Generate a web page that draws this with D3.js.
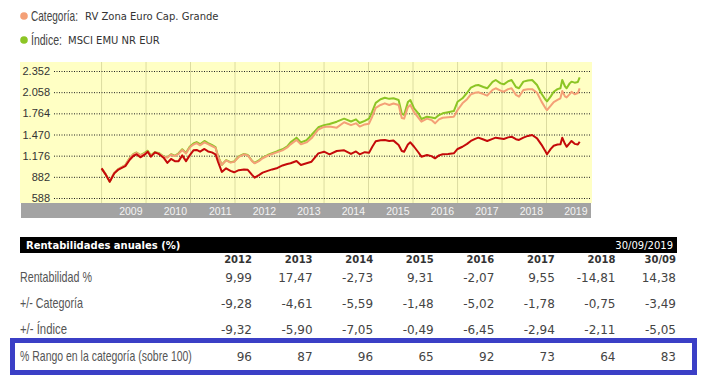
<!doctype html>
<html>
<head>
<meta charset="UTF-8">
<title>RV Zona Euro Cap. Grande</title>
<script src="https://cdn.jsdelivr.net/npm/d3@7"></script>
<style>
body { margin: 0; background: #fff; }
.narrow { font-family: "Liberation Sans", Arial, sans-serif; }
.verd { font-family: "DejaVu Sans", Verdana, sans-serif; }
.arial { font-family: "Liberation Sans", Arial, sans-serif; }
</style>
</head>
<body>
<script>
// series (base 1000)
var fechas = ["2009-01-01","2009-02-01","2009-03-09","2009-04-15","2009-05-15","2009-06-20","2009-07-15","2009-08-20","2009-09-20","2009-10-15","2009-11-15","2009-12-20",
  "2010-01-15","2010-02-10","2010-03-15","2010-04-15","2010-05-25","2010-06-25","2010-07-25","2010-08-25","2010-09-25","2010-10-25","2010-11-25","2010-12-25",
  "2011-01-25","2011-02-20","2011-03-20","2011-04-25","2011-05-25","2011-06-25","2011-07-25","2011-08-15","2011-09-15","2011-10-20","2011-11-25","2011-12-25",
  "2012-02-01","2012-03-15","2012-04-15","2012-05-20","2012-06-10","2012-07-15","2012-08-15","2012-09-25","2012-11-01","2012-12-15",
  "2013-01-25","2013-03-05","2013-04-01","2013-05-20","2013-06-25","2013-08-10","2013-09-20","2013-11-15",
  "2014-01-01","2014-02-15","2014-04-15","2014-06-15","2014-08-10","2014-09-20","2014-10-20","2014-12-01",
  "2015-01-05","2015-02-01","2015-03-01","2015-04-10","2015-05-15","2015-06-20","2015-07-25","2015-09-05","2015-10-01","2015-10-20","2015-11-20","2015-12-10",
  "2016-01-10","2016-02-15","2016-03-10","2016-04-25","2016-06-01","2016-06-30","2016-08-01","2016-09-01","2016-10-15","2016-12-01",
  "2017-01-01","2017-02-10","2017-03-20","2017-04-20","2017-05-25","2017-06-20","2017-08-01","2017-09-01","2017-10-15","2017-11-10","2017-12-20",
  "2018-01-15","2018-02-20","2018-03-20","2018-04-25","2018-05-20","2018-06-25","2018-08-01","2018-09-05","2018-10-15","2018-11-20","2018-12-25",
  "2019-01-05","2019-02-05","2019-03-01","2019-04-01","2019-04-25","2019-05-10","2019-06-01","2019-06-15","2019-07-10","2019-07-25","2019-08-20","2019-09-15","2019-09-30"];

var fondo = [1000,920,814,930,977,1010,1030,1120,1175,1195,1153,1190,
  1231,1162,1222,1200,1148,1075,1130,1100,1100,1180,1100,1180,
  1250,1255,1231,1269,1235,1222,1195,1090,950,1000,965,945,
  975,985,980,910,870,905,940,965,985,1005,
  1040,1060,1070,1102,1046,1070,1092,1208,
  1231,1195,1241,1250,1200,1235,1195,1225,
  1215,1300,1375,1390,1394,1380,1385,1324,1240,1231,1330,1361,
  1300,1220,1162,1185,1170,1139,1180,1195,1200,1208,
  1269,1300,1340,1380,1410,1426,1400,1380,1410,1426,1415,
  1408,1430,1440,1405,1394,1426,1450,1463,1417,1330,1230,
  1195,1270,1314,1330,1333,1426,1340,1300,1350,1380,1340,1330,1370];

var categoria = [1000,925,820,940,985,1020,1045,1140,1195,1215,1180,1205,
  1231,1175,1215,1208,1160,1150,1190,1170,1200,1255,1205,1290,
  1330,1350,1320,1361,1335,1310,1285,1160,1050,1110,1080,1090,
  1160,1195,1180,1100,1070,1100,1140,1175,1200,1225,
  1250,1290,1333,1394,1333,1360,1417,1540,
  1575,1580,1565,1640,1600,1625,1580,1610,
  1620,1720,1840,1880,1903,1880,1900,1880,1700,1690,1850,1880,
  1780,1700,1648,1690,1670,1625,1680,1703,1710,1717,
  1810,1903,1960,2028,2050,2056,2030,2009,2090,2112,2080,
  2064,2100,2112,2020,1995,2088,2100,2100,2050,1930,1830,
  1810,1870,1920,1950,1973,2074,2000,1985,2030,2064,2030,2045,2112];

var indice = [1000,925,815,935,985,1020,1045,1145,1200,1220,1185,1215,
  1245,1180,1225,1215,1165,1155,1195,1175,1210,1265,1215,1300,
  1345,1365,1335,1380,1350,1325,1295,1165,1050,1115,1085,1095,
  1165,1200,1185,1105,1075,1110,1150,1185,1210,1240,
  1265,1305,1361,1426,1361,1390,1463,1570,
  1600,1615,1648,1690,1650,1680,1630,1660,
  1690,1790,1910,1960,1981,1965,1973,1950,1760,1741,1920,1949,
  1834,1760,1685,1717,1705,1695,1740,1764,1780,1796,
  1925,1973,2050,2120,2150,2157,2130,2112,2200,2227,2180,
  2167,2210,2227,2130,2112,2204,2220,2227,2157,2040,1950,
  1930,2000,2064,2100,2112,2227,2140,2112,2180,2204,2190,2200,2264];

var yTicks = [588, 882, 1176, 1470, 1764, 2058, 2352];
var years = [2009, 2010, 2011, 2012, 2013, 2014, 2015, 2016, 2017, 2018, 2019];

// table of annual returns
var columnas = ["2012", "2013", "2014", "2015", "2016", "2017", "2018", "30/09"];
var rentabilidad = [9.99, 17.47, -2.73, 9.31, -2.07, 9.55, -14.81, 14.38];
var difCategoria = [-9.28, -4.61, -5.59, -1.48, -5.02, -1.78, -0.75, -3.49];
var difIndice = [-9.32, -5.90, -7.05, -0.49, -6.45, -2.94, -2.11, -5.05];
var rango = [96, 87, 96, 65, 92, 73, 64, 83];

var es = d3.formatLocale({decimal: ",", thousands: ".", grouping: [3], currency: ["", " €"], minus: "-"});
var fmt2 = es.format(".2f");
var fmtK = es.format(",d");
var parse = d3.timeParse("%Y-%m-%d");

var w = 718, h = 383;
var svg = d3.select("body").append("svg").attr("width", w).attr("height", h);

// condensed label: Liberation Sans squeezed horizontally to the width seen in the picture
function narrowText(x0, y0, txt, width, size, color) {
  var t = svg.append("text").attr("class", "narrow")
    .attr("font-size", size).attr("fill", color).text(txt);
  var sx = width / t.node().getComputedTextLength();
  t.attr("transform", "translate(" + x0 + "," + y0 + ") scale(" + sx + ",1)");
  return t;
}

// legend
var legend = [
  {color: "#f4a077", label: "Categoría:", lw: 47, text: "RV Zona Euro Cap. Grande", tx: 85, y: 16},
  {color: "#8cc525", label: "Índice:", lw: 31, text: "MSCI EMU NR EUR", tx: 68, y: 40}
];
legend.forEach(function(l) {
  svg.append("circle").attr("cx", 24).attr("cy", l.y).attr("r", 3.8).attr("fill", l.color);
  narrowText(31, l.y + 5, l.label, l.lw, "14px", "#444");
  svg.append("text").attr("class", "verd").attr("x", l.tx).attr("y", l.y + 4)
    .attr("font-size", "10px").attr("fill", "#333").text(l.text);
});

// chart
var x = d3.scaleTime()
  .domain([new Date(2008, 0, 1), new Date(2020, 0, 1)])
  .range([57, 591]);
var y = d3.scaleLinear()
  .domain([588, 2352])
  .range([198, 71]);

svg.append("rect").attr("x", 20).attr("y", 62).attr("width", 572).attr("height", 141).attr("fill", "#ffffc4");
svg.append("rect").attr("x", 21).attr("y", 203).attr("width", 570).attr("height", 15).attr("fill", "#a3a3a3");

// vertical year lines
svg.selectAll("line.vgrid").data(years).enter().append("line")
  .attr("class", "vgrid")
  .attr("x1", function(d) { return x(new Date(d, 0, 1)); })
  .attr("x2", function(d) { return x(new Date(d, 0, 1)); })
  .attr("y1", 62).attr("y2", 203)
  .attr("stroke", "#dcdca0").attr("stroke-width", 1);

// y axis with dotted grid
var yAxis = d3.axisLeft(y).tickValues(yTicks).tickFormat(fmtK).tickSize(-(591 - 54)).tickPadding(3);
var gy = svg.append("g").attr("transform", "translate(54,0)").call(yAxis);
gy.select(".domain").remove();
gy.selectAll(".tick line").attr("stroke", "#222").attr("stroke-dasharray", "1,1.5");
gy.selectAll(".tick text").attr("class", "arial").attr("font-size", "11px").attr("fill", "#333").attr("dx", -1);

// year labels on grey band
svg.selectAll("text.year").data(years).enter().append("text")
  .attr("class", "year arial")
  .attr("x", function(d) { return x(new Date(d + 1, 0, 1)) - 3.5; })
  .attr("y", 214.5)
  .attr("text-anchor", "end")
  .attr("font-size", "10.5px")
  .attr("fill", "#f4f4f4")
  .text(function(d) { return d; });

var series = [
  {values: indice, color: "#8cc525"},
  {values: categoria, color: "#f4a077"},
  {values: fondo, color: "#c40a0a"}
];
var line = d3.line()
  .x(function(d) { return x(d.date); })
  .y(function(d) { return y(d.value); });

series.forEach(function(s) {
  var pts = fechas.map(function(f, i) { return {date: parse(f), value: s.values[i]}; });
  svg.append("path").datum(pts)
    .attr("d", line)
    .attr("fill", "none")
    .attr("stroke", s.color)
    .attr("stroke-width", 2)
    .attr("stroke-linejoin", "round");
});

// table
var cx = d3.scalePoint().domain(columnas).range([252, 676]);

svg.append("rect").attr("x", 20).attr("y", 237).attr("width", 657).attr("height", 16).attr("fill", "#000");
svg.append("text").attr("class", "verd").attr("x", 26).attr("y", 249)
  .attr("font-size", "10px").attr("font-weight", "bold").attr("fill", "#fff")
  .text("Rentabilidades anuales (%)");
svg.append("text").attr("class", "verd").attr("x", 673).attr("y", 249)
  .attr("text-anchor", "end").attr("font-size", "10px").attr("fill", "#fff")
  .text("30/09/2019");

svg.selectAll("text.colhead").data(columnas).enter().append("text")
  .attr("class", "colhead verd")
  .attr("x", function(d) { return cx(d); })
  .attr("y", 263)
  .attr("text-anchor", "end")
  .attr("font-size", "10px").attr("font-weight", "bold").attr("fill", "#333")
  .text(function(d) { return d; });

// highlight box round the last row
svg.append("rect").attr("x", 12.5).attr("y", 340.5).attr("width", 682).attr("height", 32)
  .attr("fill", "#fff").attr("stroke", "#3b3fc6").attr("stroke-width", 5);

var filas = [
  {label: "Rentabilidad %", lw: 72, values: rentabilidad, f: fmt2, y: 277},
  {label: "+/- Categoría", lw: 63, values: difCategoria, f: fmt2, y: 303},
  {label: "+/- Índice", lw: 47, values: difIndice, f: fmt2, y: 329},
  {label: "% Rango en la categoría (sobre 100)", lw: 172, values: rango, f: fmtK, y: 356}
];
filas.forEach(function(r) {
  narrowText(20, r.y + 5, r.label, r.lw, "14px", "#555");
  svg.selectAll(null).data(r.values).enter().append("text")
    .attr("class", "verd")
    .attr("x", function(d, i) { return cx(columnas[i]); })
    .attr("y", r.y + 4.5)
    .attr("text-anchor", "end")
    .attr("font-size", "12px").attr("fill", "#444")
    .text(function(d) { return r.f(d); });
});
</script>
</body>
</html>
